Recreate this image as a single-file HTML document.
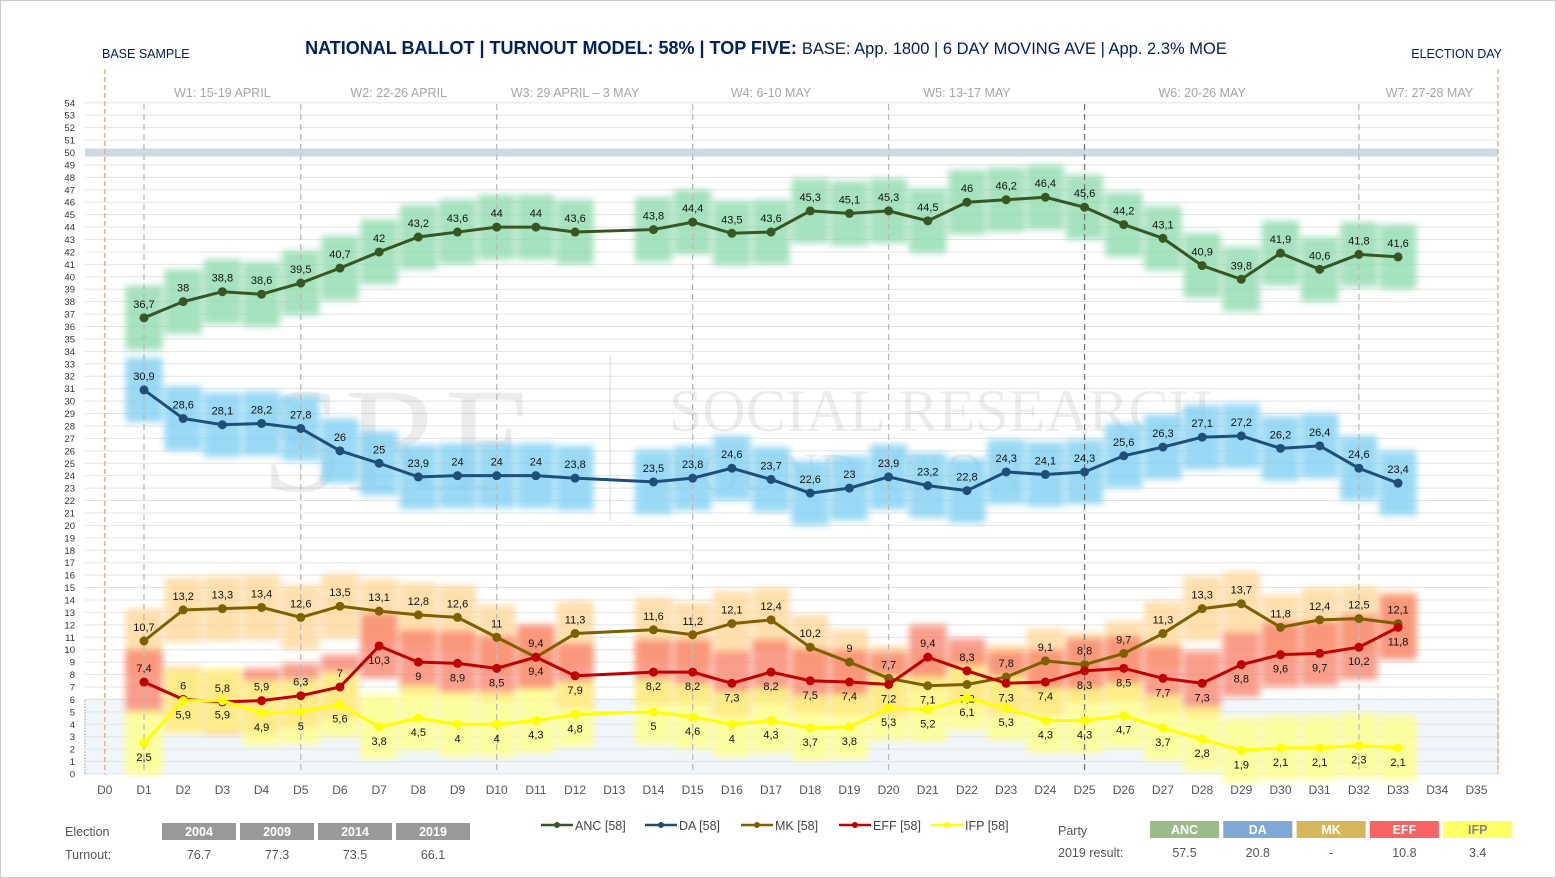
<!DOCTYPE html>
<html><head><meta charset="utf-8"><style>
body{margin:0;background:#fff;font-family:"Liberation Sans",sans-serif;}
#wrap{position:relative;width:1556px;height:878px;overflow:hidden;border:1px solid #ccc;box-sizing:border-box;}
</style></head><body>
<div id="wrap">
<svg id="chart" width="1556" height="878" font-family="Liberation Sans, sans-serif"></svg>
</div>
<script>
const days = ["D0","D1","D2","D3","D4","D5","D6","D7","D8","D9","D10","D11","D12","D13","D14","D15","D16","D17","D18","D19","D20","D21","D22","D23","D24","D25","D26","D27","D28","D29","D30","D31","D32","D33","D34","D35"];
const anc = [null,36.7,38,38.8,38.6,39.5,40.7,42,43.2,43.6,44,44,43.6,null,43.8,44.4,43.5,43.6,45.3,45.1,45.3,44.5,46,46.2,46.4,45.6,44.2,43.1,40.9,39.8,41.9,40.6,41.8,41.6,null,null];
const da = [null,30.9,28.6,28.1,28.2,27.8,26,25,23.9,24,24,24,23.8,null,23.5,23.8,24.6,23.7,22.6,23,23.9,23.2,22.8,24.3,24.1,24.3,25.6,26.3,27.1,27.2,26.2,26.4,24.6,23.4,null,null];
const mk = [null,10.7,13.2,13.3,13.4,12.6,13.5,13.1,12.8,12.6,11,9.4,11.3,null,11.6,11.2,12.1,12.4,10.2,9,7.7,7.1,7.2,7.8,9.1,8.8,9.7,11.3,13.3,13.7,11.8,12.4,12.5,12.1,null,null];
const eff = [null,7.4,6,5.8,5.9,6.3,7,10.3,9,8.9,8.5,9.4,7.9,null,8.2,8.2,7.3,8.2,7.5,7.4,7.2,9.4,8.3,7.3,7.4,8.3,8.5,7.7,7.3,8.8,9.6,9.7,10.2,11.8,null,null];
const ifp = [null,2.5,5.9,5.9,4.9,5,5.6,3.8,4.5,4,4,4.3,4.8,null,5,4.6,4,4.3,3.7,3.8,5.3,5.2,6.1,5.3,4.3,4.3,4.7,3.7,2.8,1.9,2.1,2.1,2.3,2.1,null,null];
const yTicks = [0,1,2,3,4,5,6,7,8,9,10,11,12,13,14,15,16,17,18,19,20,21,22,23,24,25,26,27,28,29,30,31,32,33,34,35,36,37,38,39,40,41,42,43,44,45,46,47,48,49,50,51,52,53,54];
const weeks = ["W1: 15-19 APRIL","W2: 22-26 APRIL","W3: 29 APRIL – 3 MAY","W4: 6-10 MAY","W5: 13-17 MAY","W6: 20-26 MAY","W7: 27-28 MAY"];
const weekPos = [3,7.5,12,17,22,28,33.8];

const svg=document.getElementById('chart');
const NS="http://www.w3.org/2000/svg";
const X0=103.8, DX=39.19, Y0=773, DY=12.43;
const x=i=>X0+i*DX, y=v=>Y0-v*DY;
function el(t,a,p){const e=document.createElementNS(NS,t);for(const k in a)e.setAttribute(k,a[k]);(p||svg).appendChild(e);return e;}
function txt(s,a,p){const e=el('text',a,p);e.textContent=s;return e;}

const defs=el('defs',{});
const f=el('filter',{id:'blur',x:'-20%',y:'-20%',width:'140%',height:'140%'},defs);
el('feGaussianBlur',{stdDeviation:'3.5'},f);

const lowBox=el('rect',{x:84,y:y(6),width:1413,height:y(0)-y(6),fill:'#f1f6fb',stroke:'#666','stroke-dasharray':'1,2','stroke-width':1});


yTicks.forEach(t=>{
  const g=el('line',{x1:84,x2:1497,y1:y(t),y2:y(t),stroke:'#e4e4e4','stroke-width':1});
  
  const l=txt(String(t),{x:74,y:y(t)+3.5,'font-size':9.5,fill:'#333','text-anchor':'end'});
  
});
const fifty=el('rect',{x:84,y:y(50)-4,width:1413,height:8,fill:'#cfd9e3'});


const wm=el('g',{opacity:0.07,fill:'#000'});

txt('SRF',{x:260,y:490,'font-size':150,'font-family':'Liberation Serif, serif'},wm);
el('rect',{x:608,y:355,width:2,height:165},wm);
txt('SOCIAL RESEARCH',{x:668,y:430,'font-size':60,'font-family':'Liberation Serif, serif'},wm);
txt('FOUNDATION',{x:668,y:490,'font-size':55,'font-family':'Liberation Serif, serif'},wm);

const effAbove=[1,2,3,4,5,6,21,22];
const series=[
 {d:anc,n:'anc',line:'#375623',band:'#8fdbae',lbl:'above'},
 {d:da,n:'da',line:'#1f4e79',band:'#7fd0f2',lbl:'above'},
 {d:mk,n:'mk',line:'#7f6000',band:'#ffd79a',lbl:'above'},
 {d:eff,n:'eff',line:'#c00000',band:'#f8866e',lbl:'below'},
 {d:ifp,n:'ifp',line:'#ffff00',band:'#ffff88',lbl:'below'}];
const bg=el('g',{filter:'url(#blur)'});

series.forEach(s=>{s.d.forEach((v,i)=>{if(v==null)return;
  const r=el('rect',{x:x(i)-DX/2+1,y:y(v+2.6),width:DX-2,height:5.2*DY,fill:s.band,opacity:0.8},bg);
  });});

[[1,'#bbb'],[5,'#bbb'],[10,'#bbb'],[15,'#bbb'],[20,'#bbb'],[25,'#777'],[32,'#bbb']].forEach(([i,c])=>{
  const l=el('line',{x1:x(i),x2:x(i),y1:103,y2:773,stroke:c,'stroke-width':1.3,'stroke-dasharray':'6,4'});
  });
[x(0),1497].forEach(xx=>{const l=el('line',{x1:xx,x2:xx,y1:68,y2:773,stroke:'#f4a460','stroke-width':1.3,'stroke-dasharray':'5,3'});
  });

series.forEach(s=>{
  const pts=[];s.d.forEach((v,i)=>{if(v!=null)pts.push(x(i)+','+y(v));});
  const p=el('polyline',{points:pts.join(' '),fill:'none',stroke:s.line,'stroke-width':3});
  
  s.d.forEach((v,i)=>{if(v==null)return;
    const c=el('circle',{cx:x(i),cy:y(v),r:4.5,fill:s.line});
    
    let above=s.lbl==='above';
    if(s.n==='eff')above=effAbove.includes(i);
    if(s.n==='mk'&&(i===21||i===22))above=false;
    const ly=above?y(v)-10:y(v)+18;
    const t=txt(String(v).replace('.',','),{x:x(i),y:ly,'font-size':11,fill:'#111','text-anchor':'middle'});
    });
});

days.forEach((d,i)=>{const t=txt(d,{x:x(i),y:793,'font-size':12,fill:'#555','text-anchor':'middle'});
  });
weeks.forEach((w,i)=>{const t=txt(w,{x:x(weekPos[i]),y:96,'font-size':12.5,fill:'#a6a6a6','text-anchor':'middle'});
  });

const ti=txt('',{x:765,y:53,'font-size':18,'text-anchor':'middle',fill:'#002060'});

el('tspan',{'font-weight':'bold'},ti).textContent='NATIONAL BALLOT | TURNOUT MODEL: 58% | TOP FIVE: ';
el('tspan',{'font-size':16.5},ti).textContent='BASE: App. 1800 | 6 DAY MOVING AVE | App. 2.3% MOE';
let t=txt('BASE SAMPLE',{x:101,y:57,'font-size':12.5,fill:'#002060'});
t=txt('ELECTION DAY',{x:1501,y:57,'font-size':12.5,fill:'#002060','text-anchor':'end'});

const legNames=['ANC [58]','DA [58]','MK [58]','EFF [58]','IFP [58]'];
const legX=[540,644,740,838,930];
series.forEach((s,i)=>{const g=el('g',{});
  el('line',{x1:legX[i],x2:legX[i]+32,y1:824,y2:824,stroke:s.line,'stroke-width':2.5},g);
  el('circle',{cx:legX[i]+16,cy:824,r:3,fill:s.line},g);
  txt(legNames[i],{x:legX[i]+34,y:829,'font-size':12.5,fill:'#444'},g);});

t=txt('Election',{x:64,y:835,'font-size':12.5,fill:'#555'});
t=txt('Turnout:',{x:64,y:858,'font-size':12.5,fill:'#555'});
const yrs=['2004','2009','2014','2019'],turn=['76.7','77.3','73.5','66.1'];
yrs.forEach((yr,i)=>{const xx=161+i*78;
  const r=el('rect',{x:xx,y:822,width:74,height:17,fill:'#999'});
  txt(yr,{x:xx+37,y:835,'font-size':12.5,'font-weight':'bold',fill:'#fff','text-anchor':'middle'});
  txt(turn[i],{x:xx+37,y:858,'font-size':12.5,fill:'#555','text-anchor':'middle'});});
t=txt('Party',{x:1057,y:834,'font-size':12.5,fill:'#555'});
t=txt('2019 result:',{x:1057,y:856,'font-size':12.5,fill:'#555'});
const parties=['ANC','DA','MK','EFF','IFP'],pc=['#9bbb8a','#7fa8d4','#d6b65a','#f86262','#ffff66'],ptc=['#fff','#fff','#fff','#fff','#888'],res=['57.5','20.8','-','10.8','3.4'];
parties.forEach((p,i)=>{const xx=1149+i*73.3;
  const r=el('rect',{x:xx,y:820,width:69,height:17,fill:pc[i]});
  txt(p,{x:xx+34.5,y:833,'font-size':12.5,'font-weight':'bold',fill:ptc[i],'text-anchor':'middle'});
  txt(res[i],{x:xx+34.5,y:856,'font-size':12.5,fill:'#555','text-anchor':'middle'});});
</script>
</body></html>
